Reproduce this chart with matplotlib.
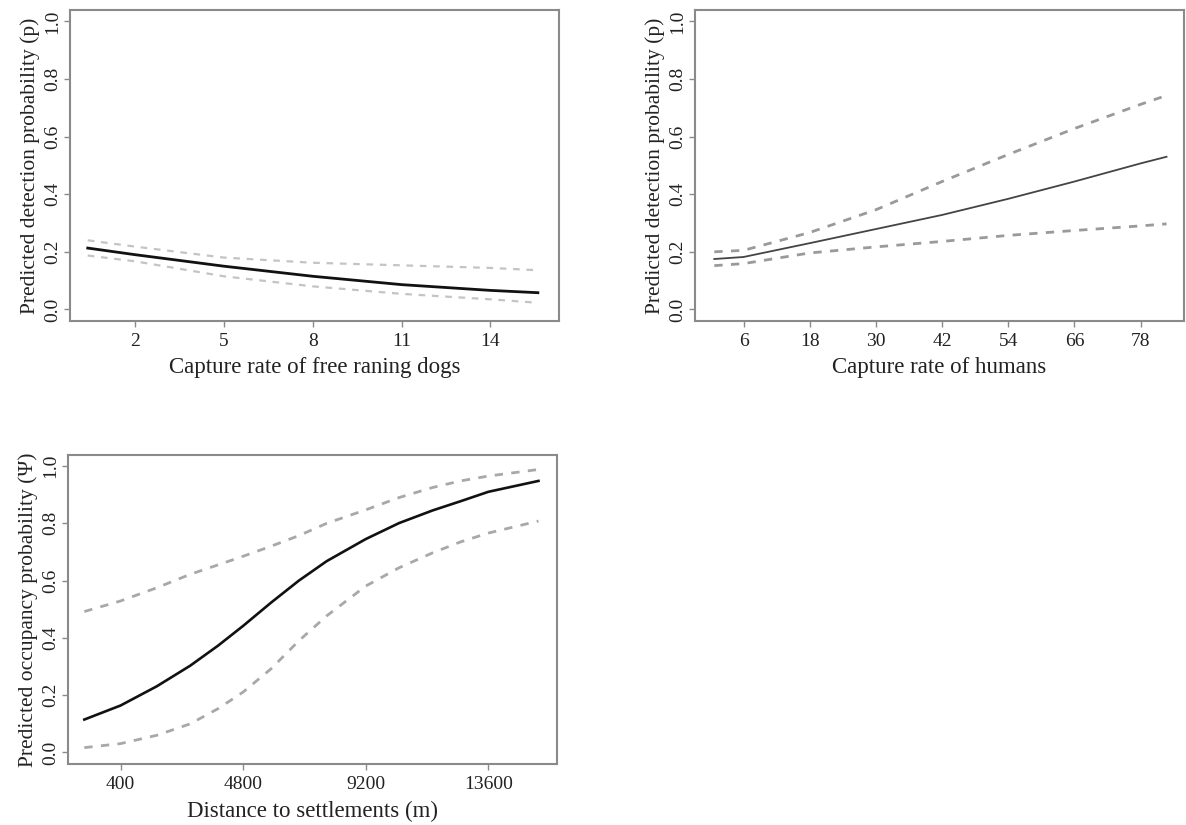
import matplotlib
matplotlib.use("Agg")
import matplotlib.pyplot as plt

plt.rcParams['font.family'] = ['Liberation Serif', 'DejaVu Serif']

# panel 1: capture rate of free ranging dogs -> detection probability
dog_x = [0.4, 2, 5, 8, 11, 14, 15.6]
dog_fit = [0.213, 0.19, 0.15, 0.115, 0.086, 0.066, 0.058]
dog_upper = [0.24, 0.218, 0.18, 0.162, 0.153, 0.144, 0.136]
dog_lower = [0.187, 0.167, 0.115, 0.08, 0.054, 0.035, 0.023]
dog_ticks = [2, 5, 8, 11, 14]

# panel 2: capture rate of humans -> detection probability
hum_x = [0.7, 6, 18, 30, 42, 54, 66, 78, 82.7]
hum_fit = [0.175, 0.182, 0.23, 0.279, 0.328, 0.384, 0.444, 0.507, 0.53]
hum_upper = [0.2, 0.205, 0.267, 0.346, 0.444, 0.538, 0.628, 0.712, 0.743]
hum_lower = [0.152, 0.159, 0.196, 0.217, 0.236, 0.257, 0.274, 0.29, 0.297]
hum_ticks = [6, 18, 30, 42, 54, 66, 78]

# panel 3: distance to settlements -> occupancy probability
dist_x = [-900, 400, 1700, 2900, 3900, 4800, 5800, 6800, 7800, 9200,
          10400, 11600, 12600, 13600, 15400]
dist_fit = [0.115, 0.164, 0.231, 0.303, 0.373, 0.442, 0.523, 0.600, 0.668,
            0.745, 0.801, 0.845, 0.877, 0.910, 0.948]
dist_upper = [0.492, 0.529, 0.575, 0.622, 0.655, 0.685, 0.72, 0.757, 0.80,
              0.847, 0.89, 0.925, 0.948, 0.965, 0.988]
dist_lower = [0.017, 0.031, 0.06, 0.10, 0.153, 0.211, 0.292, 0.39, 0.477,
              0.581, 0.645, 0.697, 0.735, 0.766, 0.808]
dist_ticks = [400, 4800, 9200, 13600]

y_ticks = [0.0, 0.2, 0.4, 0.6, 0.8, 1.0]
box_col = '#8a8a8a'


def panel(fig, rect, x, fit, upper, lower, xticks, xlim, xlabel, ylabel,
          fit_style, ci_style):
    ax = fig.add_axes(rect)
    ax.plot(x, upper, linestyle=(0, (3, 3)), **ci_style)
    ax.plot(x, lower, linestyle=(0, (3, 3)), **ci_style)
    ax.plot(x, fit, **fit_style)
    ax.set_xlim(xlim)
    ax.set_ylim(-0.04, 1.04)
    ax.set_xticks(xticks)
    ax.set_xticklabels([str(t) for t in xticks])
    ax.set_yticks(y_ticks)
    ax.set_yticklabels(['%.1f' % t for t in y_ticks], rotation=90, va='center')
    for s in ax.spines.values():
        s.set_color(box_col)
        s.set_linewidth(1.5)
    ax.tick_params(direction='out', length=4, width=1, color=box_col,
                   labelsize=14, labelcolor='#222222', pad=2)
    ax.tick_params(axis='x', pad=5)
    ax.set_xlabel(xlabel, fontsize=16.5, color='#222222', labelpad=5)
    ax.set_ylabel(ylabel, fontsize=15.5, color='#222222', labelpad=3)
    return ax


fig = plt.figure(figsize=(11.86, 8.25), dpi=100)

panel(fig, [0.059, 0.611, 0.412, 0.377], dog_x, dog_fit, dog_upper, dog_lower,
      dog_ticks, (-0.2, 16.3), 'Capture rate of free raning dogs',
      'Predicted detection probability (p)',
      dict(color='#111111', lw=2.0),
      dict(color='#c4c4c4', lw=1.6))

panel(fig, [0.586, 0.611, 0.412, 0.377], hum_x, hum_fit, hum_upper, hum_lower,
      hum_ticks, (-2.8, 85.8), 'Capture rate of humans',
      'Predicted detection probability (p)',
      dict(color='#444444', lw=1.3),
      dict(color='#9a9a9a', lw=2.0))

panel(fig, [0.057, 0.074, 0.413, 0.375], dist_x, dist_fit, dist_upper,
      dist_lower, dist_ticks, (-1500, 16080), 'Distance to settlements (m)',
      'Predicted occupancy probability (\u03a8)',
      dict(color='#111111', lw=1.9),
      dict(color='#a8a8a8', lw=2.0))

fig.savefig('out.png', dpi=100)
